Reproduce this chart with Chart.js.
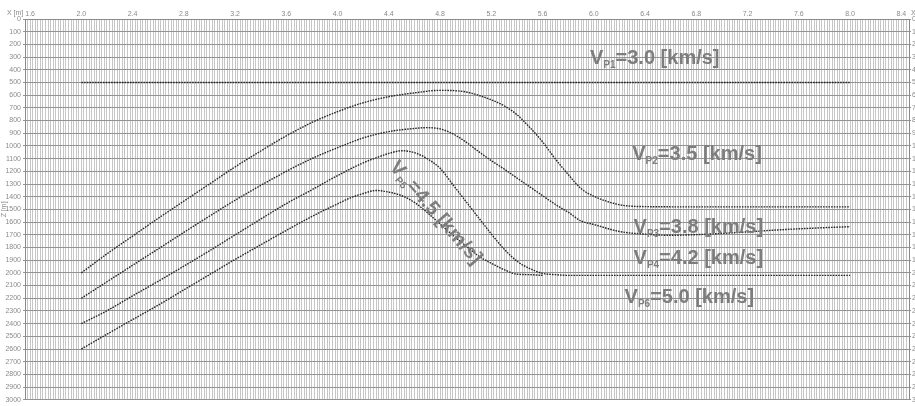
<!DOCTYPE html>
<html>
<head>
<meta charset="utf-8">
<script src="https://cdn.jsdelivr.net/npm/chart.js@4/dist/chart.umd.min.js"></script>
<style>
  html, body { margin: 0; padding: 0; background: #fff; overflow: hidden; }
  canvas { display: block; }
</style>
</head>
<body>
<canvas id="c" width="915" height="406"></canvas>
<script>
// Horizontal distance tick labels (km) and depth range (m)
const xTickLabels = ['1.6','2.0','2.4','2.8','3.2','3.6','4.0','4.4','4.8','5.2','5.6','6.0','6.4','6.8','7.2','7.6','8.0','8.4'];
const depthMin = 0, depthMax = 3000, depthStep = 100;

// Interface 1: top of layer 2
const x1 = [2.0, 8.0];
const z1 = [500, 500];

// Interface 2: top of layer 3
const x2 = [2.0,2.2,2.4,2.6,2.8,3.0,3.2,3.4,3.6,3.8,4.0,4.2,4.4,4.6,4.8,5.0,5.1,5.2,5.3,5.4,5.5,5.6,5.7,5.8,5.9,6.0,6.2,6.4,6.8,7.2,7.6,8.0];
const z2 = [2000,1850,1710,1570,1435,1300,1165,1040,920,815,730,660,612,582,562,574,601,637,684,754,854,968,1103,1225,1336,1396,1463,1478,1480,1480,1480,1480];

// Interface 3: top of layer 4
const x3 = [2.0,2.2,2.4,2.6,2.8,3.0,3.2,3.4,3.6,3.8,4.0,4.2,4.4,4.6,4.7,4.8,4.9,5.0,5.1,5.2,5.3,5.4,5.5,5.6,5.7,5.8,5.9,6.0,6.2,6.4,6.6,6.8,7.0,7.2,7.4,7.6,7.8,8.0];
const z3 = [2200,2070,1940,1811,1681,1553,1428,1311,1200,1099,1014,937,887,862,856,866,905,968,1044,1116,1182,1253,1322,1392,1461,1522,1591,1619,1674,1695,1704,1699,1689,1677,1664,1653,1644,1636];

// Interface 4: top of layer 5
const x4 = [2.0,2.2,2.4,2.6,2.8,3.0,3.2,3.4,3.6,3.8,4.0,4.2,4.3,4.4,4.5,4.6,4.7,4.8,4.9,5.0,5.1,5.2,5.3,5.4,5.5,5.6,5.7,5.8,6.2,6.6,7.0,7.4,7.8,8.0];
const z4 = [2400,2298,2181,2066,1947,1826,1701,1576,1454,1345,1233,1133,1094,1059,1038,1053,1101,1176,1305,1435,1565,1694,1813,1908,1966,2004,2014,2020,2020,2020,2020,2020,2020,2020];

// Interface 5: top of layer 6 (joins interface 4)
const x5 = [2.0,2.2,2.4,2.6,2.8,3.0,3.2,3.4,3.6,3.8,4.0,4.1,4.2,4.3,4.4,4.5,4.6,4.7,4.8,4.9,5.0,5.1,5.2,5.3,5.4,5.5,5.6];
const z5 = [2600,2483,2368,2254,2134,2014,1894,1779,1665,1555,1456,1409,1375,1351,1364,1392,1445,1525,1615,1704,1786,1867,1925,1975,2010,2014,2020];

// Layer velocity labels: [subscript, text, x (km), z (m), rotation (deg)]
const layerLabels = [
  ['P1', '=3.0 [km/s]', 5.97, 358, 0],
  ['P2', '=3.5 [km/s]', 6.30, 1114, 0],
  ['P3', '=3.8 [km/s]', 6.31, 1683, 0],
  ['P4', '=4.2 [km/s]', 6.31, 1932, 0],
  ['P5', '=4.5 [km/s]', 4.40, 1170, 49],
  ['P6', '=5.0 [km/s]', 6.24, 2236, 0]
];

const toPoints = (xs, zs) => xs.map((x, i) => ({ x: x, y: zs[i] }));

const lineStyle = {
  borderColor: '#262626',
  borderWidth: 1.4,
  borderDash: [1.6, 1.1],
  pointRadius: 0,
  fill: false,
  cubicInterpolationMode: 'monotone'
};

const tickFont = { family: 'Liberation Sans', size: 7 };
const tickColor = '#8a8a8a';

const labelPlugin = {
  id: 'layerLabels',
  afterDatasetsDraw(chart) {
    const ctx = chart.ctx;
    const xs = chart.scales.x, ys = chart.scales.y;
    ctx.save();
    ctx.fillStyle = '#7d7d7d';
    ctx.textBaseline = 'alphabetic';
    ctx.textAlign = 'left';
    layerLabels.forEach(([sub, txt, lx, lz, rot]) => {
      ctx.save();
      ctx.translate(xs.getPixelForValue(lx), ys.getPixelForValue(lz));
      ctx.rotate(rot * Math.PI / 180);
      ctx.font = 'bold 20px "Liberation Sans"';
      ctx.fillText('V', 0, 0);
      let w = ctx.measureText('V').width;
      ctx.font = 'bold 10px "Liberation Sans"';
      ctx.fillText(sub, w, 4);
      w += ctx.measureText(sub).width;
      ctx.font = 'bold 20px "Liberation Sans"';
      ctx.fillText(txt, w, 0);
      ctx.restore();
    });
    // axis captions
    ctx.font = '7px "Liberation Sans"';
    ctx.fillStyle = tickColor;
    ctx.textBaseline = 'middle';
    ctx.fillText('X [m]', 7, 13);
    ctx.fillText('X [m]', 911, 13);
    ctx.restore();
  }
};

new Chart(document.getElementById('c'), {
  type: 'line',
  data: {
    datasets: [
      Object.assign({ data: toPoints(x1, z1) }, lineStyle),
      Object.assign({ data: toPoints(x2, z2) }, lineStyle),
      Object.assign({ data: toPoints(x3, z3) }, lineStyle),
      Object.assign({ data: toPoints(x4, z4) }, lineStyle),
      Object.assign({ data: toPoints(x5, z5) }, lineStyle)
    ]
  },
  options: {
    responsive: false,
    devicePixelRatio: 1,
    animation: false,
    layout: { padding: { left: 0, right: 0, top: 0, bottom: 2 } },
    plugins: { legend: { display: false }, tooltip: { enabled: false } },
    scales: {
      x: {
        type: 'linear',
        position: 'top',
        min: 1.56,
        max: 8.46,
        afterBuildTicks: (s) => {
          const t = [];
          for (let i = 0; ; i++) {
            const v = +(1.56 + i * 0.02).toFixed(2);
            if (v > 8.46 + 1e-9) break;
            t.push({ value: v });
          }
          s.ticks = t;
        },
        afterFit: (s) => { s.height = 19; },
        grid: { color: '#c6c6c6', lineWidth: 1, drawTicks: false },
        border: { color: '#8a8a8a' },
        ticks: {
          autoSkip: false,
          maxRotation: 0,
          padding: 1,
          font: tickFont,
          color: tickColor,
          callback: (v) => {
            const m = xTickLabels.find(l => Math.abs(parseFloat(l) - v) < 1e-6);
            return m || '';
          }
        }
      },
      y: {
        type: 'linear',
        position: 'left',
        reverse: true,
        min: depthMin,
        max: depthMax,
        afterFit: (s) => { s.width = 25; },
        title: { display: true, text: 'Z [m]', font: tickFont, color: tickColor, padding: 0 },
        grid: { color: '#939393', lineWidth: 1, tickLength: 2 },
        border: { color: '#8a8a8a' },
        ticks: { stepSize: depthStep, padding: 2, font: tickFont, color: tickColor, callback: (v) => String(v) }
      },
      y2: {
        type: 'linear',
        position: 'right',
        reverse: true,
        min: depthMin,
        max: depthMax,
        afterFit: (s) => { s.width = 6; },
        grid: { drawOnChartArea: false, color: '#939393', tickLength: 2 },
        border: { color: '#8a8a8a' },
        ticks: { stepSize: depthStep, padding: 1, font: tickFont, color: tickColor, callback: (v) => String(v) }
      }
    }
  },
  plugins: [labelPlugin]
});
</script>
</body>
</html>
